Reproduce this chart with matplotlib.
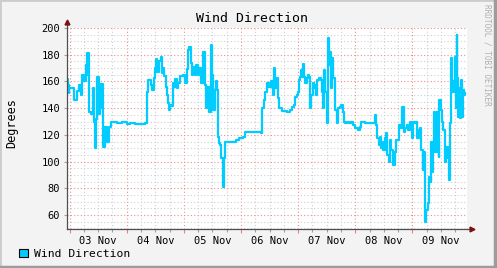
import numpy as np
import matplotlib
matplotlib.use("Agg")
import matplotlib.pyplot as plt
from matplotlib.patches import Patch, Rectangle
from matplotlib.ticker import MultipleLocator, FuncFormatter

# hours since 04 Nov 00:00, wind direction in degrees
hours = [-25.1, -24.8, -24.4, -24.1, -22.1, -20.7, -20.0, -19.3, -18.9, -18.6,
         -17.9, -17.2, -16.8, -16.5, -15.7, -14.9, -14.3, -13.7, -13.4, -12.9,
         -12.3, -11.8, -11.2, -10.7, -9.8, -9.2, -8.4, -7.6, -6.7, -5.3,
         -3.9, -1.8, 0.3, 1.4, 3.5, 5.5, 7.5, 8.4, 8.7, 9.1,
         10.1, 10.5, 11.5, 11.9, 12.3, 12.9, 13.7, 14.3, 14.7, 15.4,
         15.8, 16.4, 16.8, 17.2, 17.6, 18.2, 18.9, 19.3, 19.9, 20.4,
         21.0, 21.7, 22.4, 23.8, 24.5, 25.2, 25.9, 26.3, 26.9, 27.4,
         28.0, 28.7, 29.1, 29.8, 30.5, 31.2, 31.9, 32.2, 33.0, 33.4,
         33.7, 34.7, 35.3, 35.8, 36.4, 37.0, 37.5, 37.8, 38.3, 38.6,
         39.2, 39.7, 40.3, 40.9, 41.4, 45.9, 47.0, 48.7, 49.8, 56.5,
         56.9, 57.5, 58.2, 58.9, 59.9, 60.7, 61.3, 61.9, 62.4, 63.0,
         63.5, 64.1, 65.2, 67.3, 68.7, 69.4, 70.1, 70.6, 71.5, 71.9,
         72.2, 72.7, 73.2, 73.6, 74.2, 74.6, 75.0, 75.6, 76.1, 76.7,
         77.1, 77.5, 78.1, 78.5, 79.0, 79.5, 80.1, 80.6, 81.5, 82.0,
         82.4, 82.9, 83.4, 84.0, 84.5, 85.1, 85.3, 85.7, 86.2, 86.6,
         87.6, 88.2, 88.7, 89.5, 90.1, 90.7, 91.3, 91.8, 92.7, 93.5,
         94.3, 95.0, 95.8, 97.1, 98.1, 98.5, 100.0, 102.1, 103.9, 104.2,
         104.8, 105.3, 105.8, 106.3, 106.9, 107.4, 107.8, 108.4, 109.0, 109.5,
         110.0, 110.6, 111.1, 111.8, 112.6, 113.2, 113.9, 114.4, 115.1, 115.6,
         116.5, 117.0, 117.6, 118.1, 119.0, 119.8, 120.4, 121.2, 121.8, 122.1,
         122.6, 123.2, 123.5, 124.3, 124.6, 125.2, 125.7, 126.5, 127.1, 127.7,
         127.9, 128.2, 128.8, 129.1, 129.6, 130.2, 130.5, 131.0, 131.3, 131.9,
         132.4, 133.0, 133.6, 134.2, 134.9, 135.5, 135.8, 136.2, 136.6, 137.0,
         137.5, 137.9, 138.3, 138.6, 138.9, 139.1, 139.6, 140.0, 140.4, 140.8,
         141.3, 141.7, 142.2]
degrees = [162, 157, 151, 155, 146, 153, 157, 150, 157, 165,
           160, 172, 165, 181, 137, 136, 155, 130, 110, 132,
           163, 136, 140, 158, 111, 126, 115, 126, 130, 130,
           129, 129.5, 128.5, 129, 128.5, 128.5, 129, 129, 152, 161,
           157, 153.5, 162.5, 170, 177, 167, 175, 178.5, 166, 170,
           164, 156, 150, 144, 139, 142.3, 142, 158.6, 156, 162,
           155, 159, 164, 165, 158.6, 169, 183.5, 186, 173.5, 165,
           171, 165, 172, 165, 170, 158.6, 170, 182, 157.3, 140,
           156, 137.4, 187.3, 165, 138.6, 153.6, 160, 153.6, 118.7, 113.7,
           112.4, 102.5, 81.2, 102.5, 115, 116.2, 117.4, 118.7, 122.4, 121.2,
           140, 146, 152.3, 158.6, 156, 160, 150, 170, 155, 162.3,
           147.3, 140, 138, 137, 138.6, 141, 142.4, 148.6, 150, 152.3,
           161, 163.6, 168.6, 163.6, 172.8, 163.6, 158.6, 162.3, 164.8, 163.6,
           140, 150, 158.6, 155, 157.3, 150, 161, 162.3, 161, 152.3,
           140, 168.6, 152.3, 128.6, 192.3, 172.3, 182.3, 155, 177.3, 162.3,
           138.6, 128.6, 140, 141, 142.4, 137.4, 130, 128.6, 130, 128.6,
           130, 127.4, 124.9, 123.7, 126.2, 130, 128.6, 128.6, 128.6, 134.9,
           127.4, 117.4, 112.4, 118.7, 110, 115, 108.7, 117.4, 121.2, 105,
           100, 116.2, 108.7, 97.5, 107.4, 116.2, 116.2, 127.4, 124.9, 141.1,
           122.4, 124.9, 127.4, 123.7, 130, 117.4, 130, 128.6, 130, 117.4,
           123.7, 124.9, 108.7, 93.7, 107.4, 55, 63.8, 68.8, 88.7, 85,
           115, 92.5, 115, 137.4, 107.4, 137.4, 115, 103.7, 146.1, 138.6,
           130, 123.7, 100, 111.2, 102.5, 86.2, 128.6, 177.3, 152.3, 160,
           152.3, 178.6, 140, 194.8, 162.3, 133.6, 155, 132.4, 161, 133.6,
           153.6, 150, 151]

day_names = ["03 Nov", "04 Nov", "05 Nov", "06 Nov", "07 Nov", "08 Nov", "09 Nov"]
y_ticks = [60, 80, 100, 120, 140, 160, 180, 200]

mono = "DejaVu Sans Mono"
line_col = "#00CCFF"

fig = plt.figure(figsize=(4.97, 2.68), dpi=100)
fig.patch.set_facecolor("#F3F3F3")

ax = fig.add_axes([67/497, 1 - 229/268, 400/497, 201/268])
ax.set_facecolor("white")

ax.plot(hours, degrees, drawstyle="steps-post", color=line_col, lw=1.6, zorder=3)

ax.set_xlim(-25.1, 142.9)
ax.set_ylim(49.6, 200)

# grid: red at midnights / every 20, gray every 6h / every 5
ax.xaxis.set_major_locator(MultipleLocator(24))
ax.xaxis.set_minor_locator(MultipleLocator(6))
ax.yaxis.set_major_locator(MultipleLocator(20))
ax.yaxis.set_minor_locator(MultipleLocator(5))
ax.grid(which="minor", color="#CFCFCF", ls=(0, (1, 2)), lw=0.8, zorder=0)
ax.grid(which="major", color="#F08C8C", ls=(0, (1, 2)), lw=0.8, zorder=1)

ax.xaxis.set_major_formatter(FuncFormatter(lambda v, p: ""))


def day_label(v, p):
    h = int(round(v))
    if h % 24 == 12:
        i = h // 24 + 1
        if 0 <= i < len(day_names):
            return day_names[i]
    return ""


ax.xaxis.set_minor_formatter(FuncFormatter(day_label))
ax.set_yticks(y_ticks)
ax.set_yticklabels([str(t) for t in y_ticks])

ax.tick_params(axis="x", which="major", length=3, color="#F08080", width=0.8)
ax.tick_params(axis="x", which="minor", length=2, color="#A0A0A0", width=0.8,
               labelsize=7.5, pad=3)
ax.tick_params(axis="y", which="major", length=2, color="#A0A0A0", width=0.8,
               labelsize=7.5, pad=3)
ax.tick_params(axis="y", which="minor", length=0)
for lab in ax.get_xticklabels(minor=True) + ax.get_yticklabels():
    lab.set_fontfamily(mono)

for s in ["top", "right"]:
    ax.spines[s].set_visible(False)
for s in ["left", "bottom"]:
    ax.spines[s].set_color("#505050")
    ax.spines[s].set_linewidth(0.9)
    ax.spines[s].set_zorder(4)

# axis arrows
ax.plot([1, 1.012], [0, 0], color="#505050", lw=0.9, transform=ax.transAxes, clip_on=False)
ax.plot([1.012], [0], marker=">", ms=3.5, color="#7A1010", transform=ax.transAxes, clip_on=False)
ax.plot([0, 0], [1, 1.03], color="#505050", lw=0.9, transform=ax.transAxes, clip_on=False)
ax.plot([0], [1.03], marker="^", ms=3.5, color="#7A1010", transform=ax.transAxes, clip_on=False)

fig.text(0.507, 0.93, "Wind Direction", ha="center", va="center", fontsize=9.5, family=mono)
fig.text(0.024, 0.54, "Degrees", rotation=90, ha="center", va="center", fontsize=8.5, family=mono)
fig.text(0.979, 0.985, "RRDTOOL / TOBI OETIKER", rotation=270, ha="center", va="top",
         fontsize=5.6, family=mono, color="#B0B0B0")

fig.legend(handles=[Patch(facecolor=line_col, edgecolor="black", lw=0.8, label="Wind Direction")],
           loc="center left", bbox_to_anchor=(0.018, 0.052), frameon=False,
           handlelength=0.75, handleheight=0.75, handletextpad=0.55,
           prop={"family": mono, "size": 8.2})

# 3d style border
fig.add_artist(Rectangle((0, 0), 1, 1, transform=fig.transFigure, fill=False,
                         edgecolor="#CCCCCC", lw=2))
fig.add_artist(plt.Line2D([0, 1], [0.004, 0.004], transform=fig.transFigure, color="#9C9C9C", lw=2.5))
fig.add_artist(plt.Line2D([0.996, 0.996], [0, 1], transform=fig.transFigure, color="#9C9C9C", lw=2.5))

fig.savefig("out.png", dpi=100, facecolor=fig.get_facecolor())
